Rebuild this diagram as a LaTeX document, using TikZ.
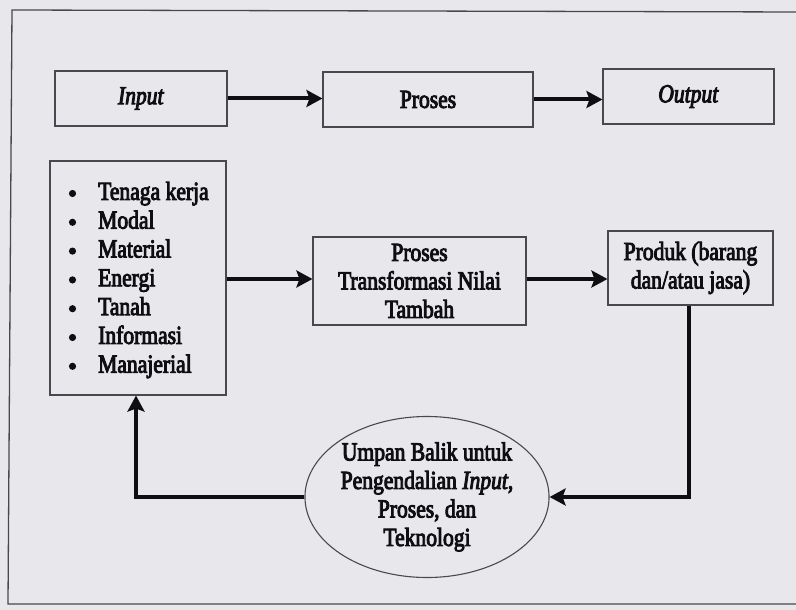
\documentclass[tikz,border=0pt]{standalone}
\usepackage{fontspec}
\setmainfont{Liberation Serif}[FakeStretch=0.83,FakeBold=3.5]
\usetikzlibrary{arrows.meta,shapes.geometric}
\definecolor{paper}{RGB}{232,231,236}
\definecolor{ink}{RGB}{15,15,17}
\definecolor{rule}{RGB}{72,72,78}

\tikzset{
  box/.style={draw=rule, line width=1.1pt, inner sep=0pt, align=center,
    font=\fontsize{26}{28.5}\selectfont, text=ink},
  flow/.style={draw=ink, line width=4pt,
    -{Stealth[length=16pt,width=17pt,inset=3pt]}},
  frame/.style={draw=rule, line width=1.3pt},
  listdot/.style={fill=ink},
}

\begin{document}
\begin{tikzpicture}[x=1pt,y=-1pt]
  \useasboundingbox (0,0) rectangle (796,610);
  \fill[paper] (-6,-6) rectangle (802,616);

  % page frame around the figure
  \draw[frame] (802,12) -- (12,10) -- (8,604) -- (802,604);

  % top row: general model
  \node[box, minimum width=172pt, minimum height=55pt] (input)  at (141,98.5) {\textit{Input}};
  \node[box, minimum width=210pt, minimum height=55pt] (proses) at (428,99.5) {Proses};
  \node[box, minimum width=171pt, minimum height=55pt] (output) at (688.5,96.5) {\textit{Output}};

  \draw[flow] (input.east) -- (input.east -| proses.west);
  \draw[flow] (proses.east) -- (proses.east -| output.west);

  % resources box with its bulleted list
  \node[box, minimum width=176pt, minimum height=234pt] (inputs) at (138,278) {};
  \node[anchor=west, align=left, inner sep=0pt, text=ink,
        font=\fontsize{26}{28.8}\selectfont] (inputlist) at (98,280)
    {Tenaga kerja\\ Modal\\ Material\\ Energi\\ Tanah\\ Informasi\\ Manajerial};
  \foreach \i in {0,...,6}
    \fill[listdot] (72.5,{193.5+28.8*\i}) circle (3.6pt);

  \node[box, minimum width=213pt, minimum height=88pt] (trans) at (419.5,281)
    {Proses\\Transformasi Nilai\\Tambah};
  \node[box, minimum width=165pt, minimum height=74pt] (produk) at (690.5,268)
    {Produk (barang\\dan/atau jasa)};

  \node[box, ellipse, minimum width=228pt, minimum height=161pt] (umpan) at (427,497)
    {Umpan Balik untuk\\Pengendalian \textit{Input},\\Proses, dan\\Teknologi};

  \draw[flow] (inputs.east |- 0,279) -- (trans.west |- 0,279);
  \draw[flow] (trans.east |- 0,279) -- (produk.west |- 0,279);
  \draw[flow] (produk.south -| 689,0) |- (umpan.east);
  \draw[flow] (umpan.west) -| (inputs.south -| 136,0);
\end{tikzpicture}
\end{document}
